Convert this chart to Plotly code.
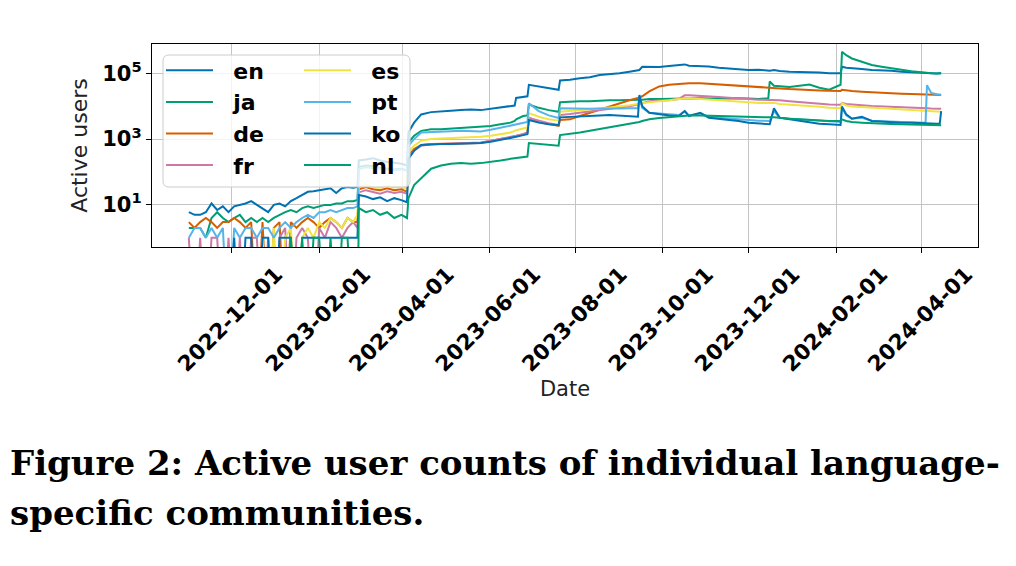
import plotly.graph_objects as go

# ---------------- data ----------------
dates = [
    "2022-11-01", "2022-11-05", "2022-11-09", "2022-11-13", "2022-11-17", "2022-11-21", "2022-11-25", "2022-11-29",
    "2022-12-03", "2022-12-07", "2022-12-11", "2022-12-15", "2022-12-19", "2022-12-23", "2022-12-27", "2022-12-31",
    "2023-01-04", "2023-01-08", "2023-01-12", "2023-01-16", "2023-01-20", "2023-01-24", "2023-01-28",
    "2023-02-01", "2023-02-05", "2023-02-09", "2023-02-13", "2023-02-17", "2023-02-21", "2023-02-25", "2023-02-28",
    "2023-03-01", "2023-03-06", "2023-03-11", "2023-03-16", "2023-03-21", "2023-03-26", "2023-03-31", "2023-04-04",
    "2023-04-05", "2023-04-09", "2023-04-14", "2023-04-21", "2023-04-28", "2023-05-05", "2023-05-12", "2023-05-19",
    "2023-05-26", "2023-06-02", "2023-06-09", "2023-06-16", "2023-06-19", "2023-06-20", "2023-06-25", "2023-06-28",
    "2023-06-29", "2023-07-06", "2023-07-13", "2023-07-20", "2023-07-21", "2023-07-28", "2023-08-04", "2023-08-11",
    "2023-08-18", "2023-08-25", "2023-09-01", "2023-09-08", "2023-09-14", "2023-09-15", "2023-09-17", "2023-09-22",
    "2023-09-29", "2023-10-06", "2023-10-13", "2023-10-17", "2023-10-20", "2023-10-28", "2023-11-03", "2023-11-10",
    "2023-11-17", "2023-11-24", "2023-12-01", "2023-12-08", "2023-12-15", "2023-12-16", "2023-12-19", "2023-12-23",
    "2023-12-30", "2024-01-06", "2024-01-13", "2024-01-20", "2024-01-27", "2024-02-04", "2024-02-05", "2024-02-08",
    "2024-02-12", "2024-02-19", "2024-02-26", "2024-03-04", "2024-03-11", "2024-03-18", "2024-03-25", "2024-04-01",
    "2024-04-04", "2024-04-05", "2024-04-08", "2024-04-12", "2024-04-14", "2024-04-15",
]

en = [6, 5, 5, 6, 11, 7, 9, 6, 9, 10, 11, 13, 10, 8, 6, 10, 11, 9, 13, 16, 20, 25, 26,
      28, 30, 32, 23, 32, 35, 33, 35,
      224, 240, 263, 224, 200, 190, 178, 158,
      1600, 3160, 5620, 6600, 7080, 7240, 7590, 7940,
      7590, 8320, 8910, 10000, 10500, 17800, 19000, 20000,
      44700, 39800, 35500, 31600, 60300, 63100, 70800, 75900,
      89100, 93300, 100000, 112000, 120000, 126000, 158000, 158000,
      155000, 166000, 178000, 186000, 170000, 166000, 160000, 148000,
      141000, 135000, 126000, 128000, 120000, 120000, 126000, 117000,
      112000, 112000, 107000, 105000, 100000, 100000, 158000, 148000,
      141000, 135000, 126000, 126000, 120000, 112000, 107000, 105000,
      100000, 100000, 100000, 98000, 100000, 100000]

ja = [2, 2, 2, 1, 4, 6, 4, 3, 4, 5, 3, 4, 3, 4, 3, 4, 5, 6, 7, 6, 8, 9, 8,
      9, 10, 10, 11, 11, 13, 13, 14,
      141, 158, 151, 132, 126, 120, 126, 112,
      794, 1260, 1780, 2000, 2000, 2090, 2140, 2240,
      2400, 2510, 2820, 3160, 3550, 3980, 5010, 5250,
      11200, 8910, 7590, 6760, 13200, 13800, 14100, 14100,
      14800, 15100, 15100, 15800, 15800, 15800, 15800, 16600,
      16600, 17000, 17400, 17000, 17400, 17400, 17000, 17400,
      17000, 17400, 17000, 16600, 17400, 56200, 41700, 39800,
      38000, 41700, 45700, 36300, 31600, 44700, 447000, 355000,
      282000, 224000, 178000, 158000, 141000, 126000, 115000, 107000,
      102000, 100000, 100000, 98000, 100000, 100000]

de = [3, 2, 3, 4, 3, 2, 3, 3, 4, 3, 2, 3, 0, 3, 0, 2, 3, 0, 3, 2, 3, 4, 3,
      2, 3, 4, 3, 2, 4, 3, 3,
      30, 35, 30, 28, 32, 28, 30, 25,
      316, 501, 661, 708, 708, 724, 724, 741,
      759, 891, 1000, 1120, 1200, 1260, 1410, 1580,
      4470, 3310, 2820, 2510, 3800, 3980, 5010, 6310,
      7940, 10000, 12600, 15100, 17800, 18600, 20000, 28200,
      39800, 44700, 47900, 50100, 50100, 50100, 47900, 45700,
      43600, 41700, 39800, 38000, 36300, 36300, 35500, 34700,
      33100, 31600, 30900, 30200, 29500, 28800, 31600, 30200,
      28800, 27500, 26300, 25700, 25100, 24000, 23400, 22900,
      22400, 22400, 22400, 21900, 21900, 21900]

fr = [1, 0, 1, 0, 1, 1, 0, 1, 0, 1, 0, 1, 1, 0, 1, 0, 1, 2, 0, 1, 2, 1, 0,
      2, 1, 3, 2, 1, 2, 3, 2,
      24, 28, 25, 22, 26, 23, 25, 22,
      282, 447, 631, 692, 708, 724, 741, 759,
      794, 891, 1000, 1120, 1200, 1260, 1410, 1580,
      4370, 3550, 3020, 2690, 5370, 5750, 6310, 6760,
      7410, 7940, 8910, 10000, 11200, 11500, 12000, 14100,
      14800, 15100, 16600, 21400, 21400, 20900, 20000, 19100,
      18200, 17800, 16600, 15800, 15500, 15500, 15800, 15100,
      14100, 13200, 12600, 12000, 11200, 11000, 12600, 11700,
      11200, 10700, 10200, 10000, 9550, 9330, 9120, 8910,
      8710, 8710, 8510, 8320, 8320, 8320]

es = [0, 0, 0, 0, 0, 0, 0, 0, 0, 0, 0, 0, 0, 1, 0, 2, 0, 1, 2, 0, 1, 2, 1,
      3, 2, 4, 3, 2, 4, 3, 5,
      36, 40, 35, 33, 38, 34, 36, 30,
      398, 631, 891, 1000, 1050, 1070, 1100, 1120,
      1170, 1260, 1410, 1580, 1780, 1860, 2090, 2240,
      6170, 4790, 3980, 3630, 6760, 7080, 7590, 7940,
      8510, 9120, 9770, 10700, 11700, 12000, 12300, 13200,
      13800, 15100, 16600, 17400, 17400, 16600, 15800, 15100,
      14500, 13800, 13200, 12600, 12300, 12300, 12600, 11700,
      11200, 10500, 10000, 9550, 8910, 8710, 12300, 10500,
      9770, 9330, 8910, 8510, 8130, 7940, 7590, 7410,
      7240, 7080, 7080, 6920, 6760, 6760]

pt = [1, 2, 2, 1, 2, 1, 2, 0, 2, 1, 2, 2, 1, 2, 2, 1, 2, 3, 2, 3, 4, 5, 4,
      6, 6, 7, 6, 7, 8, 8, 9,
      120, 140, 130, 125, 120, 115, 120, 110,
      631, 1000, 1580, 1660, 1700, 1740, 1780, 1780,
      1700, 1910, 2240, 2510, 2690, 2820, 3160, 3310,
      12300, 7080, 5250, 4370, 8710, 8510, 8320, 8320,
      8510, 8320, 8510, 8710, 8710, 20000, 8910, 6310,
      5890, 5620, 5370, 7080, 5250, 6030, 4790, 4470,
      4170, 3980, 3800, 3630, 3550, 3550, 7080, 4470,
      4170, 3980, 3800, 3630, 3470, 3310, 8910, 5250,
      4170, 4470, 3630, 3470, 3390, 3310, 3240, 3160,
      3160, 43700, 25100, 22900, 22400, 22400]

ko = [0, 0, 0, 0, 0, 0, 0, 0, 1, 0, 1, 1, 0, 1, 1, 0, 1, 1, 1, 0, 1, 1, 1,
      1, 1, 1, 1, 1, 1, 1, 1,
      20, 18, 15, 17, 13, 16, 14, 12,
      251, 447, 661, 692, 708, 708, 724, 724,
      759, 832, 933, 1050, 1120, 1170, 1320, 1410,
      3800, 3160, 2820, 2630, 4570, 4790, 5010, 5250,
      5250, 5370, 5250, 5010, 4790, 21900, 10000, 6310,
      5620, 5250, 5010, 7080, 5010, 6310, 4470, 4170,
      3800, 3550, 3160, 2950, 2820, 2820, 8710, 4470,
      3980, 3550, 3160, 2950, 2820, 2690, 9770, 5620,
      4170, 4790, 3550, 3390, 3310, 3160, 3160, 3020,
      3020, 3020, 3020, 2950, 2950, 7080]

nl = [0, 0, 0, 0, 0, 0, 0, 0, 0, 0, 0, 0, 0, 0, 0, 0, 0, 0, 1, 0, 1, 0, 1,
      1, 0, 1, 0, 1, 1, 0, 0,
      8, 6, 7, 5, 6, 4, 5, 4,
      16, 40, 63, 126, 158, 178, 186, 178,
      186, 200, 224, 251, 263, 269, 282, 295,
      759, 708, 676, 631, 1320, 1410, 1580, 1780,
      2000, 2240, 2510, 2820, 3160, 3310, 3550, 3980,
      4370, 4680, 5010, 5250, 5250, 5250, 5130, 5010,
      5010, 4900, 4790, 4680, 4570, 4570, 4570, 4370,
      4170, 3980, 3800, 3630, 3550, 3550, 3980, 3550,
      3310, 3160, 3020, 2950, 2880, 2820, 2750, 2750,
      2690, 2690, 2690, 2630, 2630, 2630]

languages = ["en", "ja", "de", "fr", "es", "pt", "ko", "nl"]
series = [en, ja, de, fr, es, pt, ko, nl]
colors = ["#0072B2", "#009E73", "#D55E00", "#CC79A7", "#F0E442", "#56B4E9", "#0072B2", "#009E73"]

x_ticks = ["2022-12-01", "2023-02-01", "2023-04-01", "2023-06-01", "2023-08-01",
           "2023-10-01", "2023-12-01", "2024-02-01", "2024-04-01"]
y_ticks = [10, 1000, 100000]
y_tick_text = ["10<sup>1</sup>", "10<sup>3</sup>", "10<sup>5</sup>"]

caption_lines = ["Figure 2: Active user counts of individual language-",
                 "specific communities."]

# ---------------- layout geometry ----------------
# reference-pixel coordinates; the page body adds an 8 px offset
OFF = 8
W, H = 1016 - OFF, 566 - OFF
PL, PR, PT, PB = 152, 978, 44, 247          # plot area edges (reference pixels)
pw, ph = PR - PL, PB - PT
LEGEND_PAD = "\u00a0\u00a0"                 # gap between legend line and label


def px_x(x):
    return (x - PL) / pw


def px_y(y):
    return (PB - y) / ph


def on_log_axis(vals):
    # zero counts cannot be drawn on a log axis: send them below the frame
    return [v if v > 0 else 1e-3 for v in vals]


fig = go.Figure()
for i, (name, vals, col) in enumerate(zip(languages, series, colors)):
    fig.add_trace(go.Scatter(
        x=dates, y=on_log_axis(vals), mode="lines", name=LEGEND_PAD + name,
        line=dict(color=col, width=2),
        legend="legend" if i < 4 else "legend2",
    ))

# legend background (matplotlib-style rounded, semi-transparent frame)
lx0, lx1, ly0, ly1, r = 163, 410, 55, 187, 6
rx, ry = r / pw, r / ph
X0, X1, Y0, Y1 = px_x(lx0), px_x(lx1), px_y(ly1), px_y(ly0)
path = (f"M{X0+rx},{Y0} L{X1-rx},{Y0} Q{X1},{Y0} {X1},{Y0+ry} "
        f"L{X1},{Y1-ry} Q{X1},{Y1} {X1-rx},{Y1} L{X0+rx},{Y1} "
        f"Q{X0},{Y1} {X0},{Y1-ry} L{X0},{Y0+ry} Q{X0},{Y0} {X0+rx},{Y0} Z")
fig.add_shape(type="path", path=path, xref="paper", yref="paper", layer="above",
              fillcolor="rgba(255,255,255,0.8)", line=dict(color="#cccccc", width=1))

legend_font = dict(family="DejaVu Sans", size=22, color="black", weight="bold")
common_legend = dict(xanchor="left", yanchor="top", bgcolor="rgba(0,0,0,0)",
                     borderwidth=0, font=legend_font, tracegroupgap=0, itemwidth=47)

for k, line in enumerate(caption_lines):
    fig.add_annotation(
        text=line, xref="paper", yref="paper", x=px_x(OFF), y=px_y(463 + 50 * k),
        xanchor="left", yanchor="middle", showarrow=False,
        font=dict(family="DejaVu Serif", size=34, color="black", weight="bold"),
    )

axis_line = dict(showline=True, linecolor="black", linewidth=1.3, mirror=True,
                 ticks="outside", ticklen=5, tickwidth=1.2, tickcolor="black",
                 showgrid=True, gridcolor="#c4c4c4", gridwidth=1.2, zeroline=False,
                 automargin=True)

fig.update_layout(
    width=W, height=H, autosize=False,
    margin=dict(l=PL - OFF, r=W - (PR - OFF), t=PT - OFF, b=H - (PB - OFF), pad=0),
    paper_bgcolor="white", plot_bgcolor="white",
    showlegend=True,
    legend=dict(x=px_x(161), y=px_y(49.5), **common_legend),
    legend2=dict(x=px_x(299), y=px_y(49.5), **common_legend),
    xaxis=dict(
        type="date", range=["2022-10-06", "2024-05-11"],
        tickvals=x_ticks, ticktext=x_ticks, tickangle=-45,
        tickfont=dict(family="DejaVu Sans", size=21.5, color="black", weight="bold"),
        ticklabelshift=45, ticklabelstandoff=0,
        title=dict(text="Date", font=dict(family="DejaVu Sans", size=21, color="#222"), standoff=2),
        **axis_line,
    ),
    yaxis=dict(
        type="log", range=[-0.28, 5.89],
        tickvals=y_ticks, ticktext=y_tick_text,
        tickfont=dict(family="DejaVu Sans", size=21, color="black", weight="bold"),
        title=dict(text="Active users", font=dict(family="DejaVu Sans", size=22, color="#222"), standoff=8),
        **axis_line,
    ),
)

fig.write_html("out.html")
